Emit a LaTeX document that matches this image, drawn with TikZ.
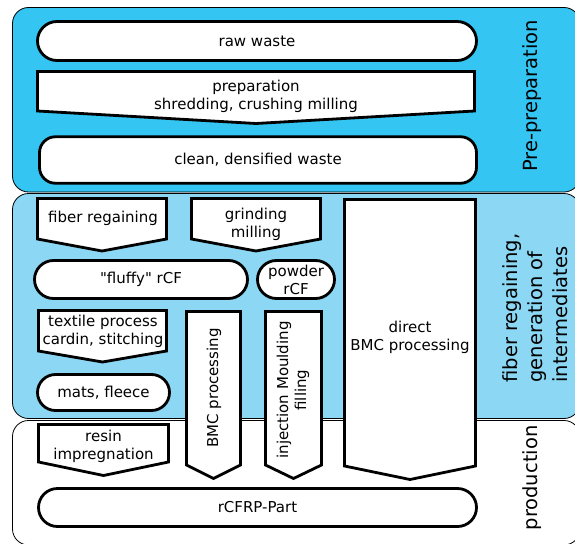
\documentclass[tikz,border=0pt]{standalone}
\usepackage{fontspec}
\setmainfont{DejaVu Sans}
\usetikzlibrary{shapes.misc}
\definecolor{prepcyan}{RGB}{52,197,242}
\definecolor{regainblue}{RGB}{140,215,243}
\tikzset{
    phase-box/.style = {draw=black, line width=0.8pt, rounded corners=16pt},
    pill-box/.style = {draw=black, fill=white, line width=2.8pt, rounded rectangle, inner sep=0pt, font=\fontsize{15}{18}\selectfont, align=center},
    arrow-box/.style = {draw=black, fill=white, line width=2.8pt, line join=miter},
    box-text/.style = {font=\fontsize{15}{18}\selectfont, align=center, inner sep=0pt},
    phase-title/.style = {font=\fontsize{19.5}{25}\selectfont, rotate=90, inner sep=0pt},
}
% left, right, top, side bottom, tip
\newcommand{\flowarrow}[5]{\draw[arrow-box] (#1,#3) -- (#2,#3) -- (#2,#4) -- ({(#1+#2)/2},#5) -- (#1,#4) -- cycle;}

\begin{document}
\begin{tikzpicture}[x=1pt, y=-1pt]
\useasboundingbox (0,0) rectangle (575,543);
\clip (0,0) rectangle (575,543);

% phases
\draw[phase-box, fill=prepcyan] (12.5,7.5) rectangle (580,192);
\draw[phase-box, fill=regainblue] (12.5,193.5) rectangle (580,418.5);
\draw[phase-box, fill=white] (12.5,420.5) rectangle (580,545);

\node[phase-title] (pre-title) at (532,96) {Pre-preparation};
\node[phase-title, align=left] (regain-title) at (535,308) {fiber regaining,\\generation of\\intermediates};
\node[phase-title] (prod-title) at (532,478) {production};

% pre-preparation
\node[pill-box, minimum width=439pt, minimum height=39pt] (raw) at (257,41) {raw waste};
\flowarrow{37.5}{474.5}{71.5}{111}{123.5}
\node[box-text] (prep) at (256,96) {preparation\\shredding, crushing milling};
\node[draw=black, fill=white, line width=2.8pt, rounded corners=16pt, minimum width=437pt, minimum height=46.5pt, font=\fontsize{15}{18}\selectfont] (clean) at (258,160) {clean, densified waste};

% fiber regaining
\flowarrow{37.5}{166.5}{198.5}{239}{251}
\node[box-text] (regain) at (103,218) {fiber regaining};
\flowarrow{191.5}{320.5}{198.5}{239}{251}
\node[box-text] (grind) at (256,224) {grinding\\milling};
\node[pill-box, minimum width=213pt, minimum height=38pt] (fluffy) at (141,279.5) {\textquotedbl fluffy\textquotedbl{} rCF};
\node[pill-box, minimum width=77pt, minimum height=38pt] (powder) at (296,279.5) {powder\\rCF};
\flowarrow{38.5}{166.5}{310.5}{351}{362}
\node[box-text] (textile) at (103,331) {textile process\\cardin, stitching};
\node[pill-box, minimum width=132pt, minimum height=36pt] (mats) at (103.5,392.5) {mats, fleece};

% production
\flowarrow{38.5}{168.5}{424.5}{462}{475.5}
\node[box-text] (resin) at (103.5,446) {resin\\impregnation};
\flowarrow{186.5}{240.5}{311.5}{465}{478.5}
\node[box-text, rotate=90] (bmc) at (214,388) {BMC processing};
\flowarrow{265.5}{321.5}{311.5}{465}{478.5}
\node[box-text, rotate=90] (inject) at (293,390) {injection Moulding\\filling};
\flowarrow{344.5}{475.5}{199.5}{466}{479.5}
\node[box-text] (direct) at (410,337) {direct\\BMC processing};
\node[pill-box, minimum width=438pt, minimum height=38pt] (part) at (257.5,507.5) {rCFRP-Part};
\end{tikzpicture}
\end{document}
